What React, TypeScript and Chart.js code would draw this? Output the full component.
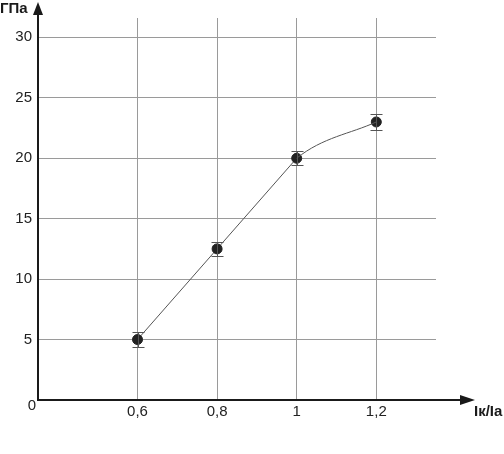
import React, { useEffect, useRef } from "react";
import { Chart, registerables } from "chart.js";

Chart.register(...registerables);

const ratios = [0.6, 0.8, 1, 1.2];
const modulus = [5, 12.5, 20, 23];
const errors = [0.6, 0.6, 0.6, 0.65];
const xTicks = [0.6, 0.8, 1, 1.2];
const yTicks = [0, 5, 10, 15, 20, 25, 30];
const yLabel = "ГПа";
const xLabel = "Iк/Iа";

const FONT = "'Liberation Sans', Arial, sans-serif";
const LINE = "#555";
const lastSeg = ratios.length - 2;

const decor = {
  id: "decor",
  afterDatasetsDraw(chart: any) {
    const ctx = chart.ctx;
    const xs = chart.scales.x;
    const ys = chart.scales.y;
    ctx.save();
    ctx.strokeStyle = "#555";
    ctx.lineWidth = 1;
    ratios.forEach((r, i) => {
      const px = Math.round(xs.getPixelForValue(r)) + 0.5;
      const top = Math.round(ys.getPixelForValue(modulus[i] + errors[i])) + 0.5;
      const bot = Math.round(ys.getPixelForValue(modulus[i] - errors[i])) + 0.5;
      ctx.beginPath();
      ctx.moveTo(px - 6, top);
      ctx.lineTo(px + 6, top);
      ctx.moveTo(px - 6, bot);
      ctx.lineTo(px + 6, bot);
      ctx.moveTo(px, top);
      ctx.lineTo(px, bot);
      ctx.stroke();
    });
    ctx.restore();
  },
  afterDraw(chart: any) {
    const ctx = chart.ctx;
    const xs = chart.scales.x;
    const ys = chart.scales.y;
    const ox = xs.left;
    const oy = ys.getPixelForValue(0);
    ctx.save();
    ctx.strokeStyle = "#1a1a1a";
    ctx.fillStyle = "#1a1a1a";
    ctx.lineWidth = 2;
    ctx.beginPath();
    ctx.moveTo(ox, oy + 1);
    ctx.lineTo(ox, 10);
    ctx.moveTo(ox - 1, oy);
    ctx.lineTo(465, oy);
    ctx.stroke();
    ctx.beginPath();
    ctx.moveTo(ox, 2);
    ctx.lineTo(ox - 5, 15);
    ctx.lineTo(ox + 5, 15);
    ctx.closePath();
    ctx.fill();
    ctx.beginPath();
    ctx.moveTo(475, oy);
    ctx.lineTo(460, oy - 5);
    ctx.lineTo(460, oy + 5);
    ctx.closePath();
    ctx.fill();
    ctx.font = "bold 15px " + FONT;
    ctx.textAlign = "left";
    ctx.textBaseline = "middle";
    ctx.fillText(yLabel, 0, 9);
    ctx.fillText(xLabel, 474, oy + 12);
    ctx.font = "15px " + FONT;
    ctx.fillStyle = "#222";
    ctx.textAlign = "right";
    ctx.fillText("0", 36, oy + 6);
    ctx.restore();
  },
};

export default function App() {
  const ref = useRef<HTMLCanvasElement | null>(null);
  useEffect(() => {
    document.body.style.margin = "0";
    const pts = ratios.map((r, i) => ({ x: r, y: modulus[i] }));
    const chart = new Chart(ref.current!, {
      type: "line",
      data: {
        datasets: [
          {
            data: pts,
            borderColor: "transparent",
            borderWidth: 1,
            pointRadius: 0,
            cubicInterpolationMode: "monotone",
            segment: {
              borderColor: (c: any) => (c.p0DataIndex === lastSeg ? LINE : "transparent"),
            },
          },
          {
            data: pts,
            borderColor: LINE,
            borderWidth: 1,
            tension: 0,
            pointRadius: 5,
            pointBackgroundColor: "#222",
            pointBorderColor: "#222",
            segment: {
              borderColor: (c: any) => (c.p0DataIndex === lastSeg ? "transparent" : LINE),
            },
          },
        ],
      },
      options: {
        animation: false,
        responsive: false,
        layout: { padding: { top: 18, right: 68, left: 0, bottom: 0 } },
        plugins: { legend: { display: false }, tooltip: { enabled: false } },
        scales: {
          x: {
            type: "linear",
            min: 0.35,
            max: 1.35,
            afterBuildTicks: (s: any) => {
              s.ticks = xTicks.map((v) => ({ value: v }));
            },
            afterFit: (s: any) => {
              s.height = 54;
            },
            grid: { color: "#9a9a9a", lineWidth: 1, drawTicks: false },
            border: { display: false },
            ticks: {
              padding: 3,
              color: "#222",
              font: { family: FONT, size: 15 },
              callback: (v: any) => String(v).replace(".", ","),
            },
          },
          y: {
            type: "linear",
            min: 0,
            max: 31.6,
            afterBuildTicks: (s: any) => {
              s.ticks = yTicks.map((v) => ({ value: v }));
            },
            afterFit: (s: any) => {
              s.width = 38;
            },
            grid: { color: "#9a9a9a", lineWidth: 1, drawTicks: false },
            border: { display: false },
            ticks: {
              padding: 6,
              color: "#222",
              font: { family: FONT, size: 15 },
              callback: (v: any) => (v === 0 ? "" : String(v)),
            },
          },
        },
      },
      plugins: [decor],
    });
    return () => chart.destroy();
  }, []);
  return <canvas ref={ref} width={504} height={454} style={{ display: "block" }} />;
}
